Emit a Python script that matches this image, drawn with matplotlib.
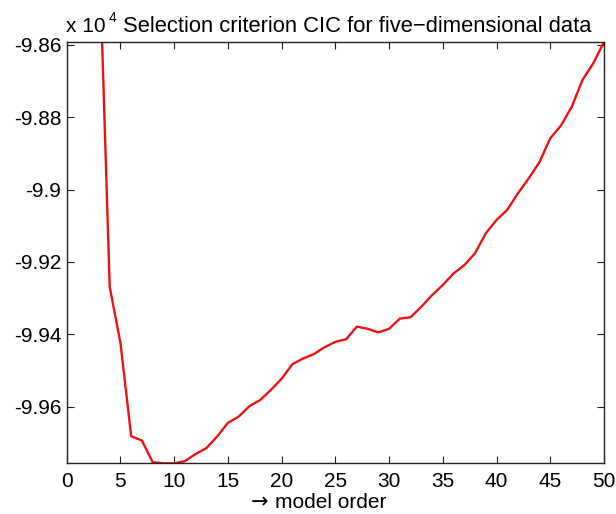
import matplotlib
matplotlib.use("Agg")
import matplotlib.pyplot as plt
from matplotlib.ticker import FuncFormatter

plt.rcParams['font.family'] = ['Liberation Sans', 'DejaVu Sans']

# model orders and CIC values (in units of 10^4)
orders = list(range(3, 51))
cic = [-9.8310, -9.9269, -9.9424, -9.9682, -9.9694, -9.9754, -9.9757, -9.9757,
       -9.9751, -9.9731, -9.9715, -9.9683, -9.9645, -9.9628, -9.9599, -9.9582,
       -9.9554, -9.9523, -9.9483, -9.9467, -9.9455, -9.9436, -9.9421, -9.9414,
       -9.9379, -9.9385, -9.9395, -9.9385, -9.9357, -9.9353, -9.9324, -9.9292,
       -9.9264, -9.9232, -9.9209, -9.9176, -9.9121, -9.9084, -9.9056, -9.9010,
       -9.8969, -9.8924, -9.8858, -9.8823, -9.8771, -9.8697, -9.8651, -9.8592]

xticks = [0, 5, 10, 15, 20, 25, 30, 35, 40, 45, 50]
yticks = [-9.96, -9.94, -9.92, -9.90, -9.88, -9.86]

FS = 15
fig = plt.figure(figsize=(6.16, 5.14), dpi=100)
ax = fig.add_axes([0.1083, 0.0986, 0.8722, 0.8197])
ax.plot(orders, cic, color='#ee1111', linewidth=1.7)
ax.set_xlim(0, 50)
ax.set_ylim(-9.9757, -9.8592)
ax.set_xticks(xticks)
ax.set_yticks(yticks)
ax.yaxis.set_major_formatter(FuncFormatter(lambda v, p: '%g' % v))
ax.tick_params(direction='in', top=True, right=True, length=5, width=0.8,
               labelsize=FS, colors='#222222', labelcolor='black')
ax.tick_params(axis='x', pad=6)
ax.tick_params(axis='y', pad=4)
for s in ax.spines.values():
    s.set_linewidth(1.0)
    s.set_color('#222222')
fig.text(251 / 616, 1 - 508 / 514, '\u2192', fontsize=15, family='DejaVu Sans',
         ha='left', va='baseline')
fig.text(275 / 616, 1 - 508 / 514, 'model order', fontsize=FS,
         ha='left', va='baseline')
fig.text(66 / 616, 1 - 31.7 / 514, 'x 10', fontsize=FS, ha='left', va='baseline')
fig.text(109 / 616, 1 - 22 / 514, '4', fontsize=10, ha='left', va='baseline')
fig.text(123 / 616, 1 - 31.7 / 514,
         'Selection criterion CIC for five\u2212dimensional data',
         fontsize=15.8, ha='left', va='baseline')
fig.savefig('out.png', dpi=100)
